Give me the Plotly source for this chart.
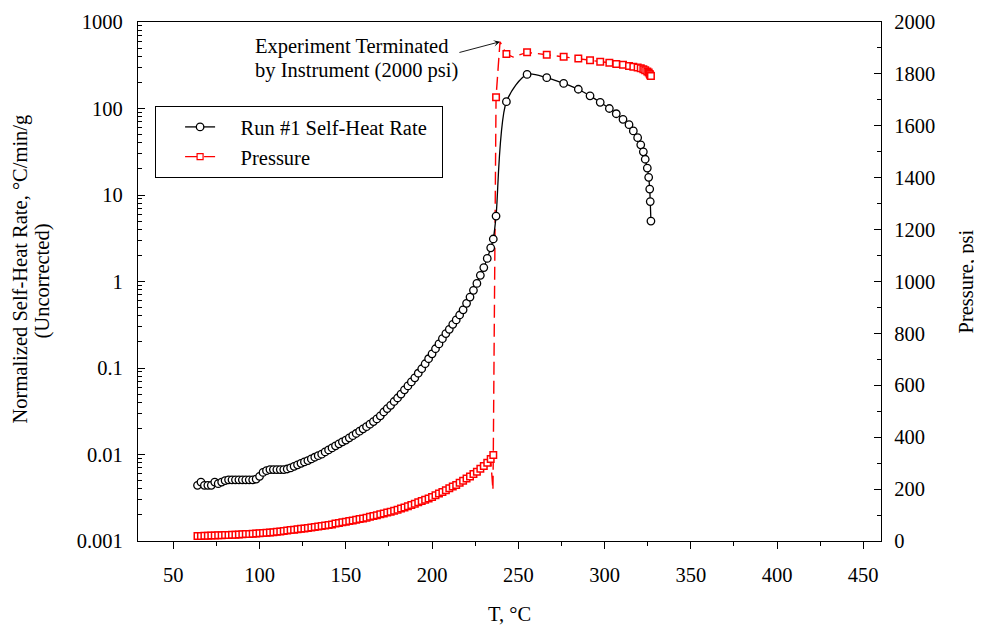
import plotly.graph_objects as go

# ---------------- data ----------------
# Temperature (°C) of each recorded sample
T = [64, 66, 68, 70, 72, 74, 76, 78, 80, 82, 84, 86, 88, 90, 92, 94, 96, 98,
     100, 102, 104, 106, 108, 110, 112, 114, 116, 118, 120, 122, 124, 126, 128,
     130, 132, 134, 136, 138, 140, 142, 144, 146, 148, 150, 152, 154, 156, 158,
     160, 162, 164, 166, 168, 170, 172, 174, 176, 178, 180, 182, 184, 186, 188,
     190, 192, 194, 196, 198, 200, 202, 204, 206, 208, 210, 212, 214, 216, 218,
     220, 222, 224, 226, 228, 230, 232, 234, 235.5,
     237.1, 243.1, 255.1, 266.5, 276.3, 284.8, 291.6, 297.5, 302.8, 306.8, 310.7,
     314.2, 316.7, 319.2, 321.0, 322.5, 323.6, 324.8, 325.6, 326.2, 326.5, 326.9]

# Normalized self-heat rate (°C/min/g)
rate = [0.0044, 0.0048, 0.0044, 0.0044, 0.0044, 0.0048, 0.0046, 0.0048, 0.0050,
        0.0051, 0.0051, 0.0051, 0.0051, 0.0051, 0.0051, 0.0051, 0.0051, 0.0052,
        0.0056, 0.0062, 0.0065, 0.0067, 0.0067, 0.0067, 0.0067, 0.0067, 0.0068,
        0.0070, 0.0073, 0.0076, 0.0079, 0.0082, 0.0085, 0.0089, 0.0093, 0.0097,
        0.0101, 0.0107, 0.0113, 0.0119, 0.0126, 0.0133, 0.0140, 0.0147, 0.0156,
        0.0165, 0.0175, 0.0186, 0.0198, 0.021, 0.0224, 0.024, 0.0258, 0.028,
        0.031, 0.034, 0.037, 0.041, 0.045, 0.050, 0.056, 0.062, 0.069, 0.077,
        0.087, 0.098, 0.112, 0.128, 0.146, 0.167, 0.19, 0.218, 0.25, 0.28, 0.32,
        0.36, 0.41, 0.47, 0.56, 0.66, 0.79, 0.95, 1.18, 1.45, 1.85, 2.45, 3.1,
        5.7, 120, 248, 227, 195, 167, 140, 118, 100, 87, 75,
        65, 55, 46, 38, 31.6, 25.9, 20.5, 16, 11.7, 8.4, 5.0]

# Pressure (psi)
pressure = [19, 19, 20, 20, 21, 21, 22, 22, 23, 23, 24, 24, 25, 26, 27, 27, 28, 29,
            30, 31, 32, 33, 34, 36, 37, 39, 40, 42, 43, 45, 47, 48, 50, 52, 54, 56,
            58, 60, 62, 64, 67, 69, 72, 74, 77, 79, 82, 85, 87, 90, 93, 96, 99, 103,
            106, 110, 113, 117, 120, 125, 129, 134, 139, 144, 149, 154, 159, 164,
            170, 176, 183, 189, 196, 203, 210, 216, 224, 232, 241, 249, 258, 267,
            278, 289, 302, 316, 331,
            1710, 1877, 1883, 1874, 1866, 1859, 1853, 1847, 1843, 1838, 1835,
            1830, 1828, 1825, 1822, 1818, 1814, 1809, 1805, 1800, 1795, 1792]

# Extra vertices of the drawn pressure curve (curve overshoot, no marker)
p_curve_T = [235.3, 239.4, 247.0]
p_curve_P = [196, 1924, 1865]

x_ticks = [50, 100, 150, 200, 250, 300, 350, 400, 450]
rate_ticks = [0.001, 0.01, 0.1, 1, 10, 100, 1000]
rate_tick_text = ["0.001", "0.01", "0.1", "1", "10", "100", "1000"]
p_ticks = [0, 200, 400, 600, 800, 1000, 1200, 1400, 1600, 1800, 2000]

FONT = "Liberation Serif"
FS = 20.5
NB = "\u00a0"

# merge pressure curve vertices in temperature order
curve = sorted(list(zip(T, pressure)) + list(zip(p_curve_T, p_curve_P)))
curve_T = [c[0] for c in curve]
curve_P = [c[1] for c in curve]

fig = go.Figure()

# pressure dashed curve
fig.add_trace(go.Scatter(
    x=curve_T, y=curve_P, mode="lines", yaxis="y", showlegend=False,
    line=dict(color="#ff0000", width=1.4, dash="13px,6px"), hoverinfo="skip"))
# pressure markers
fig.add_trace(go.Scatter(
    x=T, y=pressure, mode="markers", yaxis="y", showlegend=False,
    marker=dict(symbol="square", size=6.5, color="white",
                line=dict(color="#ff0000", width=1.5))))
# self-heat rate
fig.add_trace(go.Scatter(
    x=T, y=rate, mode="lines+markers", yaxis="y2",
    name=NB * 4 + "Run #1 Self-Heat Rate" + NB * 2,
    legendrank=1,
    line=dict(color="black", width=1.3, shape="spline", smoothing=0.8),
    marker=dict(symbol="circle", size=7.5, color="white",
                line=dict(color="black", width=1.3))))
# legend entry for pressure
fig.add_trace(go.Scatter(
    x=[None], y=[None], mode="lines+markers", yaxis="y",
    name=NB * 4 + "Pressure",
    legendrank=2,
    line=dict(color="#ff0000", width=1.3, dash="13px,6px"),
    marker=dict(symbol="square", size=6, color="white",
                line=dict(color="#ff0000", width=1.2))))

minor_log = [m * 10 ** e for e in range(-3, 3) for m in range(2, 10)]

W, H = 974, 618
L, R, TOP, B = 130, 101, 14, 85

fig.update_layout(
    width=W, height=H,
    margin=dict(l=L, r=R, t=TOP, b=B, autoexpand=False),
    paper_bgcolor="white", plot_bgcolor="white",
    font=dict(family=FONT, size=FS, color="black"),
    xaxis=dict(
        range=[29.5, 460.3], tickvals=x_ticks, ticks="outside", ticklen=7,
        tickwidth=1, tickcolor="black", showline=True, linecolor="black",
        linewidth=1.3, mirror=True, showgrid=False, zeroline=False,
        automargin=False,
        minor=dict(dtick=25, tick0=25, ticks="outside", ticklen=4,
                   tickcolor="black", showgrid=False),
        ticklabelstandoff=8),
    yaxis=dict(
        side="right", range=[0, 2000], tickvals=p_ticks, ticks="inside",
        ticklen=7, tickcolor="black", showline=True, linecolor="black",
        linewidth=1.3, showgrid=False, zeroline=False, automargin=False,
        minor=dict(dtick=100, ticks="inside", ticklen=4, tickcolor="black",
                   showgrid=False),
        ticklabelstandoff=8),
    yaxis2=dict(
        type="log", side="left", overlaying="y", range=[-3, 3],
        tickvals=rate_ticks, ticktext=rate_tick_text, ticks="inside",
        ticklen=7, tickcolor="black", showline=True, linecolor="black",
        linewidth=1.3, showgrid=False, zeroline=False, automargin=False,
        minor=dict(tickvals=minor_log, ticks="inside", ticklen=4,
                   tickcolor="black", showgrid=False),
        ticklabelstandoff=10),
    legend=dict(x=0.023, y=0.838, xanchor="left", yanchor="top",
                bgcolor="white", bordercolor="black", borderwidth=1,
                font=dict(family=FONT, size=FS), tracegroupgap=0,
                indentation=24),
    showlegend=True,
)

# axis titles (as annotations for exact placement)
fig.add_annotation(text="T, °C", xref="paper", yref="paper", x=0.5, y=0,
                   yanchor="middle", yshift=-(606 - 533), showarrow=False,
                   xshift=0, font=dict(size=FS))
fig.add_annotation(text="Normalized Self-Heat Rate, °C/min/g", xref="paper",
                   yref="paper", x=0, y=0.5, xanchor="center", yanchor="middle",
                   xshift=12 - L, yshift=12, textangle=-90, showarrow=False,
                   font=dict(size=FS))
fig.add_annotation(text="(Uncorrected)", xref="paper",
                   yref="paper", x=0, y=0.5, xanchor="center", yanchor="middle",
                   xshift=34 - L, textangle=-90, showarrow=False,
                   font=dict(size=FS))
fig.add_annotation(text="Pressure, psi", xref="paper",
                   yref="paper", x=1, y=0.5, xanchor="center", yanchor="middle",
                   xshift=958 - (W - R), textangle=-90, showarrow=False,
                   font=dict(size=FS))

# note with arrow
fig.add_annotation(
    x=239.4, y=1924, xref="x", yref="y", ax=215, ay=1881, axref="x", ayref="y",
    text="", showarrow=True, arrowhead=3, arrowsize=1.2, arrowwidth=0.9,
    arrowcolor="black")
fig.add_annotation(
    xref="paper", yref="paper", x=0, y=1, xanchor="left", yanchor="middle",
    xshift=245 - L, yshift=-(38 - TOP),
    text="Experiment Terminated", showarrow=False, font=dict(size=FS))
fig.add_annotation(
    xref="paper", yref="paper", x=0, y=1, xanchor="left", yanchor="middle",
    xshift=245 - L, yshift=-(62 - TOP),
    text="by Instrument (2000 psi)", showarrow=False, font=dict(size=FS))

fig.write_html("out.html")
